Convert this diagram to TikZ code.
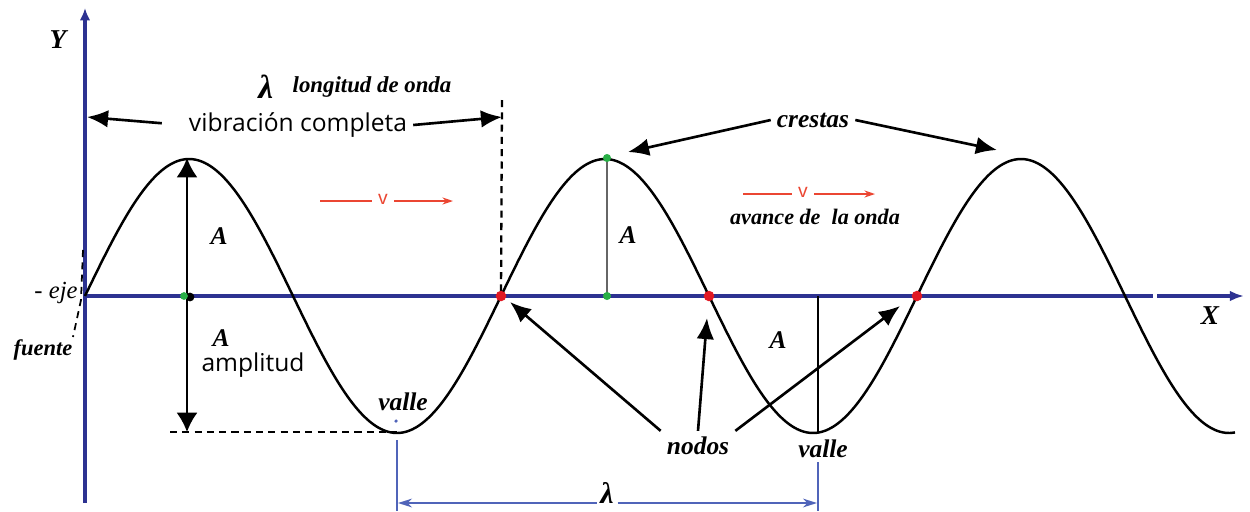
\documentclass[tikz,border=0pt]{standalone}
\usepackage{fontspec}
\setmainfont{Liberation Serif}
\newfontfamily\manofont{Open Sans}
\newfontfamily\palofont{Liberation Sans}
\usetikzlibrary{arrows.meta,positioning}
\definecolor{ejeazul}{RGB}{45,50,145}
\definecolor{azulclaro}{RGB}{80,100,185}
\definecolor{rojov}{RGB}{235,70,50}
\definecolor{nodorojo}{RGB}{225,25,35}
\definecolor{verdep}{RGB}{40,175,70}
\begin{document}
\begin{tikzpicture}[x=0.02cm, y=-0.02cm,
	etiq/.style={font=\fontsize{14.5}{16}\selectfont\bfseries\itshape},
	chica/.style={font=\fontsize{12.8}{14}\selectfont\bfseries\itshape},
	mano/.style={font=\fontsize{14}{16}\selectfont\manofont},
	flecha/.style={-{Latex[length=12pt,width=10pt]}, line width=1.5pt},
	ejes/.style={ejeazul, line width=2pt},
	roja/.style={rojov, line width=1.2pt},
	cota/.style={azulclaro, line width=1.1pt},
	raya/.style={dash pattern=on 4pt off 3pt}]
	\useasboundingbox (0,0) rectangle (1250,511);
	% puntos de la onda
	\coordinate (O) at (85,296);
	\coordinate (c1) at (187,158); \coordinate (c1b) at (187,432);
	\coordinate (c2) at (607,158); \coordinate (c2b) at (607,296);
	\coordinate (n1) at (501,296); \coordinate (n2) at (709,296); \coordinate (n3) at (917,296);
	\coordinate (v1) at (397,432); \coordinate (v2) at (818,432); \coordinate (v2b) at (818,296);
	% ejes
	\draw[ejes, -{Latex[length=7pt,width=6pt]}] (85,503) -- (85,8);
	\draw[ejes] (O) -- (1153,296);
	\draw[ejes, -{Latex[length=8pt,width=6pt]}] (1157,296) -- (1244,296);
	\node[etiq, font=\fontsize{15.5}{17}\selectfont\bfseries\itshape] (ylab) at (58,40) {Y};
	\node[etiq, font=\fontsize{15.5}{17}\selectfont\bfseries\itshape] (xlab) at (1210,316) {X};
	% onda
	\draw[line width=1.4pt] plot[domain=85:1235, samples=240, smooth] (\x, {296-137*sin((\x-85)/416*360)});
	% fuente y eje
	\coordinate (fa) at (83,250); \coordinate (fb) at (81,300); \coordinate (fc) at (73,337);
	\draw[raya, line width=1pt] (fa) -- (fb) -- (fc);
	\node[chica, font=\fontsize{14}{16}\selectfont\itshape] (eje) at (56,293) {- eje};
	\node[chica] (fuente) at (43,350) {fuente};
	% longitud de onda
	\coordinate (ya) at (87,117); \coordinate (yb) at (502,117); \coordinate (yc) at (502,100);
	\draw[raya, line width=1.3pt] (yc) -- (n1);
	\node[chica, font=\fontsize{13}{15}\selectfont\bfseries\itshape] (lon) at (372,87) {longitud de onda};
	\node[font=\fontsize{19}{20}\selectfont\bfseries\itshape, left=4pt of lon] (lam) {λ};
	\node[mano] (vib) at (298,125) {vibración completa};
	\draw[flecha, shorten <=12pt] (vib.west) -- (ya);
	\draw[flecha] (vib.east) -- (yb);
	% amplitud
	\draw[line width=1.3pt, {Latex[length=11pt,width=12pt]}-{Latex[length=11pt,width=12pt]}] (c1) -- (c1b);
	\draw[raya, line width=1.2pt] (170,432) -- (v1);
	\node[etiq] (a1) at (219,236) {A};
	\node[etiq] (a2) at (221,338) {A};
	\node[mano] (amp) at (253,365) {amplitud};
	\fill[black] (190,297) circle (2.5pt);
	\fill[verdep] (184,296) circle (2.2pt);
	\draw[gray!80!black, line width=0.8pt] (c2) -- (c2b);
	\fill[verdep] (c2) circle (2.3pt);
	\fill[verdep] (c2b) circle (2.3pt);
	\node[etiq] (a3) at (628,235) {A};
	\draw[line width=0.7pt] (v2b) -- (v2);
	\node[etiq] (a4) at (778,340) {A};
	% nodos
	\foreach \n in {n1,n2,n3}{
	\fill[nodorojo] (\n) circle (3pt);
	}
	\node[etiq] (nodos) at (698,446) {nodos};
	\coordinate (pn1) at (510,302); \coordinate (pn2) at (707,318); \coordinate (pn3) at (900,306);
	\draw[flecha] (nodos.north west) -- (pn1);
	\draw[flecha] (nodos.north) -- (pn2);
	\draw[flecha] (nodos.north east) -- (pn3);
	% crestas
	\node[etiq] (crestas) at (813,120) {crestas};
	\coordinate (pc2) at (628,152); \coordinate (pc3) at (997,150);
	\draw[flecha] (crestas.west) -- (pc2);
	\draw[flecha] (crestas.east) -- (pc3);
	% valles
	\node[etiq] (valle1) at (403,402) {valle};
	\node[etiq] (valle2) at (823,449) {valle};
	\fill[azulclaro] (396,421) circle (1pt);
	% velocidad
	\node[text=rojov, font=\fontsize{11}{12}\selectfont\palofont] (vel1) at (383,199) {v};
	\coordinate (r1a) at (320,201); \coordinate (r1b) at (453,201);
	\draw[roja] (r1a) -- (vel1.west |- r1a);
	\draw[roja, -{Stealth[length=6pt,width=4pt]}] (vel1.east |- r1b) -- (r1b);
	\node[text=rojov, font=\fontsize{11}{12}\selectfont\palofont] (vel2) at (803,192) {v};
	\coordinate (r2a) at (743,194); \coordinate (r2b) at (875,194);
	\draw[roja] (r2a) -- (vel2.west |- r2a);
	\draw[roja, -{Stealth[length=6pt,width=4pt]}] (vel2.east |- r2b) -- (r2b);
	\node[chica, font=\fontsize{12.6}{14}\selectfont\bfseries\itshape] (avance) at (815,217) {avance de \ la onda};
	% lambda abajo
	\draw[cota] (397,440) -- (397,511);
	\draw[cota] (818,462) -- (818,511);
	\coordinate (lb1) at (398,503); \coordinate (lb2) at (817,503);
	\node[font=\fontsize{17}{18}\selectfont\bfseries\itshape, inner sep=2pt] (lamb) at (607,493) {λ};
	\draw[cota, -{Stealth[length=8pt,width=5pt]}] (lamb.west |- lb1) -- (lb1);
	\draw[cota, -{Stealth[length=8pt,width=5pt]}] (lamb.east |- lb2) -- (lb2);
\end{tikzpicture}
\end{document}
